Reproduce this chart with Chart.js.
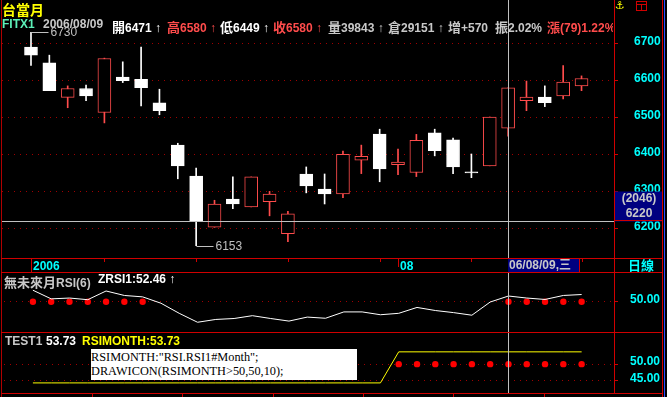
<!DOCTYPE html>
<html>
<head>
<meta charset="utf-8">
<script src="https://cdn.jsdelivr.net/npm/chart.js@4.4.1/dist/chart.umd.min.js"></script>
<style>
  body { margin: 0; background: #000; width: 667px; height: 397px; overflow: hidden; position: relative; }
  canvas { position: absolute; left: 0; }
  .t { position: absolute; white-space: nowrap; line-height: 12px; font: bold 12px "Liberation Sans", "Noto Sans CJK TC", sans-serif; }
  .cjk { font-family: "Noto Sans CJK TC", sans-serif; font-size: 13px; }
  .ln { position: absolute; }
  #code { position: absolute; left: 91px; top: 349px; width: 266px; height: 31px; background: #fff; color: #000;
          font: 12.3px "Liberation Serif", serif; line-height: 14px; padding-top: 1px; box-sizing: border-box; white-space: pre; }
</style>
</head>
<body>
<canvas id="main" width="667" height="272" style="top:0"></canvas>
<canvas id="rsi" width="667" height="59" style="top:273px"></canvas>
<canvas id="test" width="667" height="60" style="top:333px"></canvas>
<div id="code">RSIMONTH:"RSI.RSI1#Month";
DRAWICON(RSIMONTH&gt;50,50,10);</div>
<script>
// trading days shown (TX front month, daily bars)
const dates = ['2006/07/03','2006/07/04','2006/07/05','2006/07/06','2006/07/07','2006/07/10','2006/07/11',
  '2006/07/12','2006/07/13','2006/07/17','2006/07/18','2006/07/19','2006/07/20','2006/07/21','2006/07/24',
  '2006/07/25','2006/07/26','2006/07/27','2006/07/28','2006/07/31','2006/08/01','2006/08/02','2006/08/03',
  '2006/08/04','2006/08/07','2006/08/08','2006/08/09','2006/08/10','2006/08/11','2006/08/14','2006/08/15'];

const open  = [6690,6647,6554,6578,6513,6609,6603,6539,6425,6341,6203,6279,6258,6272,6186,6347,6306,6293,6384,6455,6372,6351,6458,6439,6352,6369,6471,6545,6555,6558,6585];
const high  = [6730,6668,6585,6587,6660,6650,6690,6576,6430,6363,6276,6339,6339,6300,6246,6366,6347,6409,6425,6468,6414,6454,6468,6444,6401,6501,6580,6598,6585,6640,6612];
const low   = [6640,6572,6526,6545,6485,6594,6531,6507,6334,6153,6203,6253,6258,6234,6164,6296,6266,6283,6348,6326,6345,6340,6396,6348,6337,6369,6449,6518,6529,6550,6572];
const close = [6668,6572,6578,6558,6659,6599,6580,6518,6369,6221,6266,6266,6339,6293,6239,6315,6293,6400,6395,6361,6379,6438,6410,6366,6350,6501,6580,6555,6540,6595,6605];

const rsi6 = [54.93,51.25,51.6,50.9,54.6,52.7,52.1,49.4,45.1,41.3,42.5,42.9,44.1,42.9,41.8,43.5,43.0,45.7,45.7,44.5,
  45.1,47.6,46.3,45.4,44.3,49.9,52.46,51.6,51.0,52.7,53.1];
const rsiMonth = [44.3,44.3,44.3,44.3,44.3,44.3,44.3,44.3,44.3,44.3,44.3,44.3,44.3,44.3,44.3,44.3,44.3,44.3,44.3,44.3,
  53.73,53.73,53.73,53.73,53.73,53.73,53.73,53.73,53.73,53.73,53.73];

const priceTicks = [6200, 6300, 6400, 6500, 6600, 6700];
const rsiTicks = [50];
const testTicks = [45, 50];
const dateTickIdx = [0, 20];
const dateTickText = ['2006', '08'];
const weekTickIdx = [4, 9, 14, 19, 24, 30];

const crossIdx = 26;
const crossPrice = 6220;
const crossBarNo = '(2046)';
const volume = 39843, openInt = 29151, oiChange = 570;

const RED = '#FF4C4C';
const FRAME = '#D00000';
const GRID = '#A00000';
const CYAN = '#00FFFF';
const SILVER = '#C8C8C8';

Chart.defaults.font.family = '"Liberation Sans", "Noto Sans CJK TC", sans-serif';

const up = i => close[i] >= open[i];

function yAxis(min, max, ticks, fmt, pad) {
  return {
    position: 'right', min, max,
    afterBuildTicks: s => { s.ticks = ticks.map(v => ({ value: v })); },
    afterFit: s => { s.width = 51; s.paddingTop = 0; s.paddingBottom = 0; },
    grid: { color: GRID, lineWidth: 1, drawTicks: true, tickLength: 4, tickColor: FRAME },
    border: { display: false, dash: [1, 5] },
    ticks: { color: CYAN, font: { size: 12, weight: 'bold' }, padding: pad, labelOffset: -2, callback: fmt }
  };
}

function xHidden() {
  return { type: 'linear', min: -1.58, max: 31.77, offset: false, display: false };
}

function baseOptions(topPad) {
  return {
    responsive: false, animation: false, devicePixelRatio: 1,
    layout: { padding: { left: 2, right: 2, top: topPad, bottom: 0 } },
    plugins: { legend: { display: false }, tooltip: { enabled: false } }
  };
}

function vCross(chart) {
  const ctx = chart.ctx;
  const cx = Math.round(chart.scales.x.getPixelForValue(crossIdx)) + 0.5;
  ctx.save();
  ctx.strokeStyle = '#C0C0C0';
  ctx.lineWidth = 1;
  ctx.beginPath();
  ctx.moveTo(cx, 0);
  ctx.lineTo(cx, chart.height);
  ctx.stroke();
  ctx.restore();
}

const mainDecor = {
  id: 'mainDecor',
  afterDatasetsDraw(chart) {
    const { ctx, chartArea: a, scales: { x, y } } = chart;
    ctx.save();
    // crosshair
    const cx = Math.round(x.getPixelForValue(crossIdx)) + 0.5;
    const cy = Math.round(y.getPixelForValue(crossPrice)) + 0.5;
    ctx.strokeStyle = '#C0C0C0';
    ctx.lineWidth = 1;
    ctx.beginPath();
    ctx.moveTo(a.left, cy); ctx.lineTo(a.right, cy);
    ctx.moveTo(cx, 0); ctx.lineTo(cx, a.bottom);
    ctx.stroke();

    // highest high / lowest low markers
    const hiIdx = high.indexOf(Math.max(...high));
    const loIdx = low.indexOf(Math.min(...low));
    ctx.font = '12px "Liberation Sans"';
    ctx.textBaseline = 'middle';
    ctx.textAlign = 'left';
    [[hiIdx, high[hiIdx]], [loIdx, low[loIdx]]].forEach(([i, v]) => {
      const px = Math.round(x.getPixelForValue(i)) + 0.5;
      const py = Math.round(y.getPixelForValue(v)) + 0.5;
      ctx.strokeStyle = '#C0C0C0';
      ctx.beginPath(); ctx.moveTo(px, py); ctx.lineTo(px + 17, py); ctx.stroke();
      ctx.fillStyle = '#C0C0C0';
      ctx.fillText(String(v), px + 19, py);
    });

    // price box on the right axis
    const bx = a.right + 1, bw = 48, bh = 30;
    ctx.fillStyle = '#000080';
    ctx.fillRect(bx, cy - bh, bw, bh);
    ctx.fillStyle = FRAME;
    ctx.fillRect(bx, cy - 1.5, bw, 1);
    ctx.fillStyle = SILVER;
    ctx.font = 'bold 12px "Liberation Sans"';
    ctx.textAlign = 'center';
    ctx.fillText(crossBarNo, bx + bw / 2, cy - 23);
    ctx.fillText(String(crossPrice), bx + bw / 2, cy - 8);

    // date row ticks
    ctx.fillStyle = FRAME;
    dateTickIdx.forEach((i, k) => {
      const px = Math.round(x.getPixelForValue(i));
      ctx.fillRect(px, a.bottom, 1, k === 0 ? 14 : 9);
    });
    weekTickIdx.forEach(i => {
      const px = Math.round(x.getPixelForValue(i));
      ctx.fillRect(px, a.bottom, 1, 4);
    });

    // date box at the crosshair
    const d = dates[crossIdx].split('/');
    const wd = '日一二三四五六'[new Date(+d[0], +d[1] - 1, +d[2]).getDay()];
    const lx = cx - 0.5;
    ctx.fillStyle = '#000080';
    ctx.fillRect(lx, a.bottom + 1, 71, 13);
    ctx.fillStyle = FRAME;
    ctx.fillRect(lx + 71, a.bottom, 1, 14);
    ctx.fillStyle = SILVER;
    ctx.textAlign = 'left';
    ctx.font = 'bold 12px "Liberation Sans", "Noto Sans CJK TC"';
    ctx.fillText(d[0].slice(2) + '/' + d[1] + '/' + d[2] + ',' + wd, lx + 1, a.bottom + 7.5);
    ctx.restore();
  }
};

new Chart(document.getElementById('main'), {
  type: 'bar',
  data: {
    datasets: [
      {
        data: dates.map((d, i) => ({ x: i, y: [open[i], close[i]] })),
        backgroundColor: c => up(c.dataIndex) ? '#000000' : '#FFFFFF',
        borderColor: c => up(c.dataIndex) ? RED : '#FFFFFF',
        borderWidth: 1, borderSkipped: false, barThickness: 13, minBarLength: 1,
        grouped: false, order: 0
      },
      {
        data: dates.map((d, i) => ({ x: i, y: [low[i], high[i]] })),
        backgroundColor: c => up(c.dataIndex) ? RED : '#FFFFFF',
        borderWidth: 0, barThickness: 1, grouped: false, order: 1
      }
    ]
  },
  options: Object.assign(baseOptions(30), {
    scales: {
      x: {
        type: 'linear', min: -1.58, max: 31.77, offset: false, position: 'bottom',
        afterBuildTicks: s => { s.ticks = dateTickIdx.map(v => ({ value: v })); },
        afterFit: s => { s.height = 14; s.paddingLeft = 0; s.paddingRight = 0; },
        grid: { display: false, drawTicks: false },
        border: { display: false },
        ticks: {
          color: CYAN, font: { size: 12, weight: 'bold' }, padding: 1, align: 'start', labelOffset: 2,
          maxRotation: 0, autoSkip: false, callback: v => dateTickText[dateTickIdx.indexOf(v)]
        }
      },
      y: yAxis(6120, 6736, priceTicks, v => String(v), 16)
    }
  }),
  plugins: [mainDecor]
});

new Chart(document.getElementById('rsi'), {
  type: 'line',
  data: {
    datasets: [
      { data: rsi6.map((v, i) => ({ x: i, y: v })), borderColor: '#FFFFFF', borderWidth: 1, pointRadius: 0, tension: 0 },
      { data: rsi6.map((v, i) => ({ x: i, y: v > 50 ? 50 : null })), showLine: false,
        pointRadius: 3.2, pointBackgroundColor: '#FF0000', pointBorderWidth: 0 }
    ]
  },
  options: Object.assign(baseOptions(0), {
    scales: { x: xHidden(), y: yAxis(38.86, 60.55, rsiTicks, v => v.toFixed(2), 12) }
  }),
  plugins: [{ id: 'cross', afterDatasetsDraw: vCross }]
});

new Chart(document.getElementById('test'), {
  type: 'line',
  data: {
    datasets: [
      { data: rsiMonth.map((v, i) => ({ x: i, y: v })), borderColor: '#FFFF00', borderWidth: 1, pointRadius: 0, tension: 0 },
      { data: rsiMonth.map((v, i) => ({ x: i, y: v > 50 ? 50 : null })), showLine: false,
        pointRadius: 3.2, pointBackgroundColor: '#FF0000', pointBorderWidth: 0 }
    ]
  },
  options: Object.assign(baseOptions(0), {
    scales: { x: xHidden(), y: yAxis(42.45, 58.24, testTicks, v => v.toFixed(2), 12) }
  }),
  plugins: [{ id: 'cross', afterDatasetsDraw: vCross }]
});

// ---- header texts ----
function txt(html, x, y, color, extra) {
  const d = document.createElement('div');
  d.className = 't';
  d.innerHTML = html;
  d.style.left = x + 'px';
  d.style.top = y + 'px';
  d.style.color = color;
  if (extra) Object.assign(d.style, extra);
  document.body.appendChild(d);
  return d;
}
const cj = s => '<span class="cjk">' + s + '</span>';

const i0 = crossIdx;
const prev = close[i0 - 1];
const chg = close[i0] - prev;
const amp = ((high[i0] - low[i0]) / prev * 100).toFixed(2);
const pct = (chg / prev * 100).toFixed(2);

txt('台當月', 2, 1, '#FFFF00', { font: 'bold 14px "Noto Sans CJK TC"', lineHeight: '16px' });
txt('FITX1', 2, 17, '#5CF0B8');
txt(dates[i0], 43, 17, SILVER);
txt(cj('開') + open[i0] + ' ↑', 112, 17, '#FFFFFF');
txt(cj('高') + high[i0] + ' ↑', 167, 17, RED);
txt(cj('低') + low[i0] + ' ↑', 220, 17, '#FFFFFF');
txt(cj('收') + close[i0] + ' ↑', 273, 17, RED);
txt(cj('量') + volume + ' ↑', 328, 17, SILVER);
txt(cj('倉') + openInt + ' ↑', 388, 17, SILVER);
txt(cj('增') + '+' + oiChange, 448, 17, SILVER);
txt(cj('振') + amp + '%', 495, 17, SILVER);
txt(cj('漲') + '(' + chg + ')' + pct + '%', 547, 17, RED, { width: '66px', overflow: 'hidden' });

txt(cj('無未來月') + 'RSI(6)', 4, 272, SILVER);
txt('ZRSI1:' + rsi6[i0].toFixed(2) + ' ↑', 98, 272, '#FFFFFF');

txt('TEST1', 5, 334, SILVER);
txt(rsiMonth[i0].toFixed(2), 46, 334, '#FFFFFF');
txt('RSIMONTH:' + rsiMonth[i0].toFixed(2), 82, 334, '#FFFF00');

txt(cj('日線'), 628, 255, CYAN);
txt('⚓', 615, -1, '#FFFF00', { font: 'bold 11px "DejaVu Sans"' });

// ---- frame lines ----
function line(x, y, w, h, c) {
  const d = document.createElement('div');
  d.className = 'ln';
  Object.assign(d.style, { left: x + 'px', top: y + 'px', width: w + 'px', height: h + 'px', background: c });
  document.body.appendChild(d);
}
line(1, 0, 1, 397, '#B00000');
line(614, 0, 1, 394, FRAME);
line(662, 0, 1, 397, FRAME);
line(664, 0, 1, 397, '#3050FF');
line(1, 258, 662, 1, FRAME);
line(1, 272, 662, 1, FRAME);
line(1, 332, 662, 1, FRAME);
line(1, 393, 662, 1, FRAME);
[92, 182, 273, 363, 453, 544].forEach(x => line(x, 394, 1, 3, FRAME));
// window icon
line(636, 1, 11, 1, FRAME); line(636, 10, 11, 1, FRAME);
line(636, 1, 1, 10, FRAME); line(646, 1, 1, 10, FRAME);
line(636, 4, 11, 1, FRAME); line(641, 4, 1, 7, FRAME);
</script>
</body>
</html>
